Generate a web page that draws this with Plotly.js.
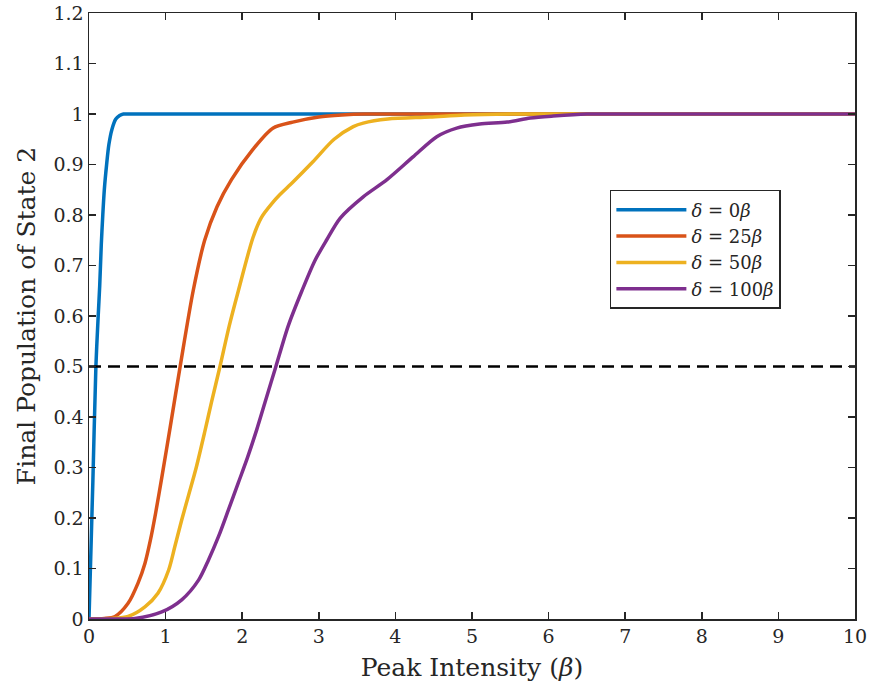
<!DOCTYPE html>
<html>
<head>
<meta charset="utf-8">
<script src="https://cdn.plot.ly/plotly-3.0.1.min.js"></script>
<style>
  html, body { margin: 0; padding: 0; background: #fff; }
  #chart { width: 873px; height: 694px; }
</style>
</head>
<body>
<div id="chart"></div>
<script>
// ---- Data ----
const seriesNames = ["<i>δ</i> = 0<i>β</i>", "<i>δ</i> = 25<i>β</i>", "<i>δ</i> = 50<i>β</i>", "<i>δ</i> = 100<i>β</i>"];

const x_d0 = [0, 0.05, 0.09, 0.12, 0.14, 0.16, 0.18, 0.2, 0.23, 0.26, 0.3, 0.35, 0.4, 0.45, 0.5, 1, 2, 3, 4, 5, 6, 7, 8, 9, 10];
const y_d0 = [0, 0.27, 0.5, 0.6, 0.66, 0.74, 0.8, 0.85, 0.9, 0.94, 0.97, 0.99, 0.997, 1, 1, 1, 1, 1, 1, 1, 1, 1, 1, 1, 1];

const x_d25 = [0, 0.2, 0.34, 0.51, 0.64, 0.73, 0.8, 0.87, 0.95, 1.06, 1.19, 1.36, 1.51, 1.67, 1.86, 2.14, 2.4, 2.66, 3.0, 3.3, 3.6, 4, 5, 6, 7, 8, 9, 10];
const y_d25 = [0, 0.001, 0.005, 0.031, 0.071, 0.11, 0.155, 0.21, 0.28, 0.38, 0.5, 0.65, 0.75, 0.816, 0.87, 0.93, 0.972, 0.984, 0.994, 0.998, 1, 1, 1, 1, 1, 1, 1, 1];

const x_d50 = [0, 0.3, 0.51, 0.73, 0.9, 1.04, 1.12, 1.21, 1.3, 1.4, 1.51, 1.6, 1.71, 1.83, 1.95, 2.14, 2.25, 2.4, 2.49, 2.66, 2.92, 3.2, 3.45, 3.58, 3.9, 4.45, 4.9, 5.5, 6, 7, 8, 9, 10];
const y_d50 = [0, 0.001, 0.005, 0.024, 0.051, 0.097, 0.143, 0.196, 0.245, 0.3, 0.37, 0.43, 0.5, 0.58, 0.65, 0.755, 0.795, 0.825, 0.84, 0.865, 0.905, 0.95, 0.975, 0.982, 0.99, 0.994, 0.998, 1, 1, 1, 1, 1, 1];

const x_d100 = [0, 0.4, 0.6, 0.95, 1.21, 1.43, 1.56, 1.69, 1.82, 1.95, 2.07, 2.19, 2.3, 2.44, 2.6, 2.78, 2.95, 3.1, 3.28, 3.58, 3.89, 4.23, 4.54, 4.8, 5.1, 5.46, 5.76, 6.06, 6.5, 7, 8, 9, 10];
const y_d100 = [0, 0, 0.001, 0.014, 0.038, 0.077, 0.117, 0.163, 0.216, 0.27, 0.32, 0.375, 0.43, 0.5, 0.58, 0.65, 0.71, 0.75, 0.794, 0.836, 0.87, 0.915, 0.955, 0.972, 0.98, 0.984, 0.992, 0.996, 1, 1, 1, 1, 1];

const thresholdX = [0, 10];
const thresholdY = [0.5, 0.5];

const colors = ["#0072BD", "#D95319", "#EDB120", "#7E2F8E"];
const xs = [x_d0, x_d25, x_d50, x_d100];
const ys = [y_d0, y_d25, y_d50, y_d100];

const FONT = "DejaVu Serif";
const AX = "#262626";

const traces = xs.map((xv, i) => ({
  x: xv, y: ys[i], type: "scatter", mode: "lines", name: seriesNames[i],
  line: { color: colors[i], width: 3.5, shape: "spline", smoothing: 0.8 }
}));
traces.push({
  x: thresholdX, y: thresholdY, type: "scatter", mode: "lines", showlegend: false,
  line: { color: "#000000", width: 2.5, dash: "12px,7px" }
});

const axisCommon = {
  showgrid: false, zeroline: false, showline: true, mirror: "ticks",
  linecolor: AX, linewidth: 1.5, ticks: "inside", ticklen: 7, tickwidth: 1.5, tickcolor: AX,
  tickfont: { family: FONT, size: 19, color: AX }
};

const layout = {
  width: 873, height: 694,
  margin: { l: 89, r: 18, t: 13, b: 75 },
  paper_bgcolor: "#ffffff", plot_bgcolor: "#ffffff",
  font: { family: FONT, color: AX },
  xaxis: Object.assign({}, axisCommon, {
    range: [0, 10], dtick: 1, tick0: 0,
    title: { text: "Peak Intensity (<i>β</i>)", font: { family: FONT, size: 25, color: AX }, standoff: 12 }
  }),
  yaxis: Object.assign({}, axisCommon, {
    range: [0, 1.2], dtick: 0.1, tick0: 0,
    title: { text: "Final Population of State 2", font: { family: FONT, size: 25, color: AX }, standoff: 10 }
  }),
  legend: {
    x: 0.68, y: 0.708, xanchor: "left", yanchor: "top",
    bgcolor: "#ffffff", bordercolor: AX, borderwidth: 1.5,
    font: { family: FONT, size: 18, color: AX },
    itemwidth: 70, tracegroupgap: 0
  },
  showlegend: true
};

Plotly.newPlot("chart", traces, layout, { displayModeBar: false, staticPlot: true });
</script>
</body>
</html>
